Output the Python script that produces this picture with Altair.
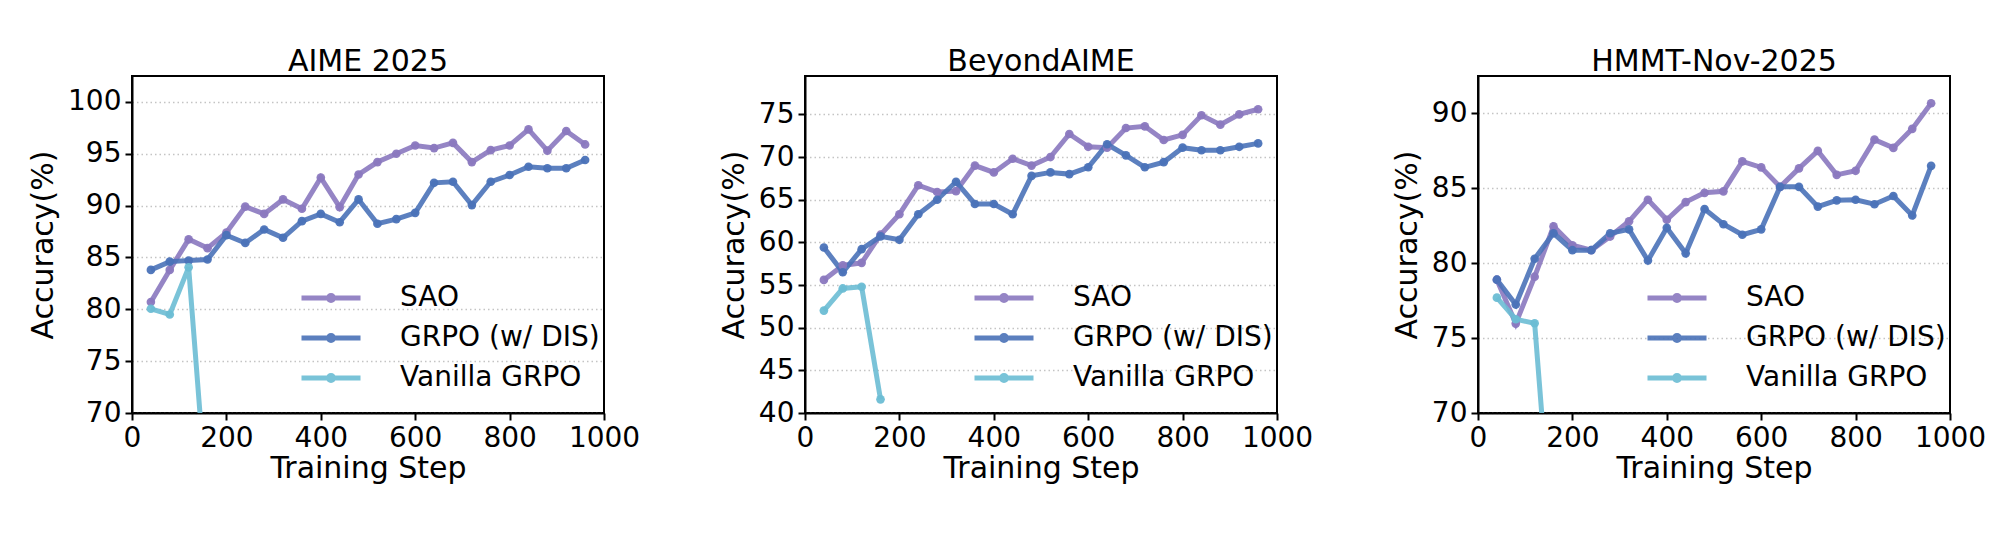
import altair as alt
import pandas as pd

steps = [40, 80, 120, 160, 200, 240, 280, 320, 360, 400, 440, 480,
         520, 560, 600, 640, 680, 720, 760, 800, 840, 880, 920, 960]
van_steps = [40, 80, 120, 160]

methods = ["SAO", "GRPO (w/ DIS)", "Vanilla GRPO"]
colors = ["#8a78bf", "#4a72b8", "#6bbdd4"]

titles = ["AIME 2025", "BeyondAIME", "HMMT-Nov-2025"]

aime_sao = [80.7, 83.8, 86.75, 85.9, 87.4, 89.9, 89.2, 90.6, 89.7, 92.7, 89.85, 93.0,
            94.2, 95.0, 95.8, 95.55, 96.05, 94.2, 95.35, 95.8, 97.35, 95.3, 97.2, 95.9]
aime_grpo = [83.8, 84.6, 84.7, 84.8, 87.15, 86.4, 87.7, 86.9, 88.5, 89.2, 88.4, 90.6,
             88.25, 88.7, 89.3, 92.2, 92.3, 90.05, 92.3, 92.95, 93.75, 93.6, 93.6, 94.4]
aime_van = [80.05, 79.5, 84.05, 60.6]

beyond_sao = [55.6, 57.3, 57.6, 60.9, 63.3, 66.7, 65.9, 66.0, 69.0, 68.2, 69.8, 69.0,
              70.0, 72.7, 71.2, 71.1, 73.4, 73.6, 72.0, 72.6, 74.9, 73.8, 75.0, 75.6]
beyond_grpo = [59.4, 56.5, 59.2, 60.7, 60.3, 63.3, 65.0, 67.1, 64.5, 64.5, 63.3, 67.8,
               68.2, 68.0, 68.8, 71.5, 70.2, 68.8, 69.4, 71.1, 70.8, 70.8, 71.2, 71.6]
beyond_van = [52.0, 54.6, 54.8, 41.6]

hmmt_sao = [78.9, 75.97, 79.1, 82.46, 81.2, 80.87, 81.78, 82.8, 84.24, 82.9, 84.08, 84.7,
            84.8, 86.8, 86.4, 85.1, 86.33, 87.5, 85.9, 86.17, 88.25, 87.7, 88.97, 90.68]
hmmt_grpo = [78.9, 77.24, 80.3, 82.0, 80.87, 80.87, 82.0, 82.26, 80.18, 82.37, 80.66, 83.62,
             82.6, 81.9, 82.26, 85.1, 85.1, 83.78, 84.2, 84.24, 83.94, 84.49, 83.19, 86.5]
hmmt_van = [77.7, 76.26, 75.99, 60.0]

y_domains = [[70, 102.5], [40, 79.5], [70, 92.5]]
y_ticks = [[70, 75, 80, 85, 90, 95, 100],
           [40, 45, 50, 55, 60, 65, 70, 75],
           [70, 75, 80, 85, 90]]
x_ticks = [0, 200, 400, 600, 800, 1000]

FONT = "DejaVu Sans"
LEGEND_PATH = ("M-2.95,0H2.95M-0.25,0A0.25,0.25,0,1,0,0.25,0"
               "A0.25,0.25,0,1,0,-0.25,0Z")


def make_df(sao, grpo, van):
    rows = []
    for s, v in zip(steps, sao):
        rows.append({"step": s, "acc": v, "method": methods[0]})
    for s, v in zip(steps, grpo):
        rows.append({"step": s, "acc": v, "method": methods[1]})
    for s, v in zip(van_steps, van):
        rows.append({"step": s, "acc": v, "method": methods[2]})
    return pd.DataFrame(rows)


def panel(title, sao, grpo, van, ydom, yt):
    df = make_df(sao, grpo, van)
    base = alt.Chart(df)
    legend = alt.Legend(
        title=None, orient="none", direction="vertical",
        legendX=168, legendY=208, padding=0,
        symbolType=LEGEND_PATH, symbolSize=400, symbolStrokeWidth=5,
        symbolOffset=17, labelOffset=55, rowPadding=12,
        labelFont=FONT, labelFontSize=28, labelColor="black", labelLimit=500,
    )
    color = alt.Color("method:N",
                      scale=alt.Scale(domain=methods, range=colors),
                      legend=legend)
    x = alt.X("step:Q", scale=alt.Scale(domain=[0, 1000], nice=False),
              axis=alt.Axis(values=x_ticks, title="Training Step", grid=False,
                            labelFlush=False, labelOverlap=False, format="d",
                            titlePadding=1))
    y = alt.Y("acc:Q", scale=alt.Scale(domain=ydom, nice=False, zero=False),
              axis=alt.Axis(values=yt, title="Accuracy(%)", grid=True,
                            labelOverlap=False, format="d", titlePadding=9))
    line = base.mark_line(strokeWidth=5, clip=True, opacity=0.9).encode(
        x=x, y=y, color=color, order="step:Q")
    pts = base.mark_circle(size=75, clip=True, opacity=0.95).encode(
        x=x, y=y, color=color)
    return alt.layer(line, pts).properties(
        width=472, height=337,
        title=alt.TitleParams(title, fontSize=30, font=FONT, fontWeight="normal",
                              color="black", baseline="alphabetic", offset=-25),
    )


p1 = panel(titles[0], aime_sao, aime_grpo, aime_van, y_domains[0], y_ticks[0])
p2 = panel(titles[1], beyond_sao, beyond_grpo, beyond_van, y_domains[1], y_ticks[1])
p3 = panel(titles[2], hmmt_sao, hmmt_grpo, hmmt_van, y_domains[2], y_ticks[2])

chart = alt.hconcat(p1, p2, p3, spacing=201, bounds="flush").resolve_scale(
    color="independent").resolve_legend(color="independent").properties(
    padding={"left": 27, "top": 46, "right": 5, "bottom": 5},
    background="white",
).configure_view(
    stroke="black", strokeWidth=2,
).configure_axis(
    labelFont=FONT, titleFont=FONT, labelFontSize=28, titleFontSize=30,
    labelColor="black", titleColor="black", titleFontWeight="normal",
    domainColor="black", domainWidth=2, tickColor="black", tickWidth=2,
    tickSize=7, labelPadding=4,
    gridColor="#c4c4c4", gridDash=[1.5, 3], gridWidth=1.5,
)

chart.save("out.html", embed_options={"renderer": "svg", "actions": False})
